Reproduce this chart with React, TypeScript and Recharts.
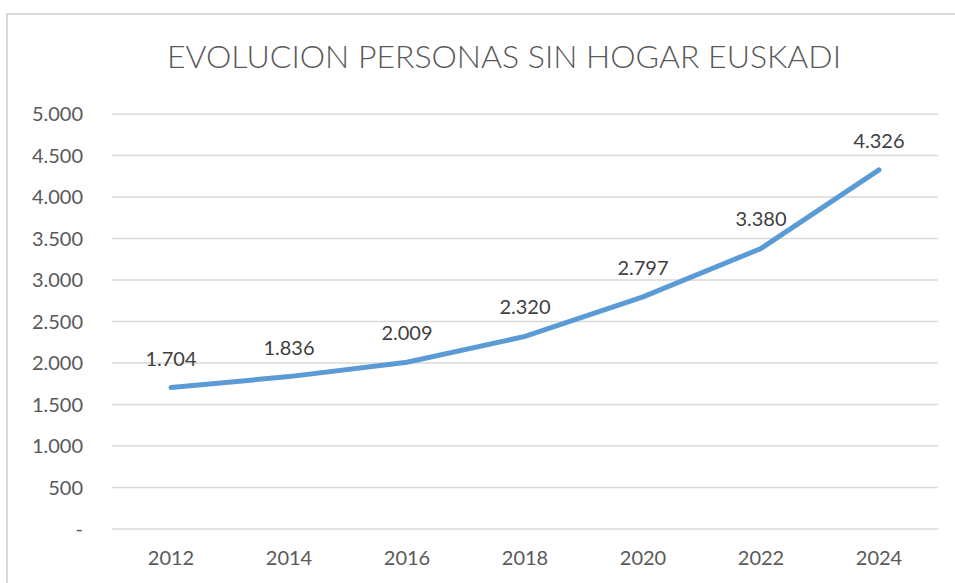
import React from "react";
import { LineChart, Line, XAxis, YAxis, CartesianGrid, LabelList } from "recharts";

const years = ["2012", "2014", "2016", "2018", "2020", "2022", "2024"];
const personas = [1704, 1836, 2009, 2320, 2797, 3380, 4326];
const yTicks = [0, 500, 1000, 1500, 2000, 2500, 3000, 3500, 4000, 4500, 5000];
const title = "EVOLUCION PERSONAS SIN HOGAR EUSKADI";

const data = years.map((y, i) => ({ year: y, value: personas[i] }));

const fmt = (v: number) =>
  v === 0 ? "-" : String(v).replace(/\B(?=(\d{3})+(?!\d))/g, ".");

const FONT = "Lato, 'Open Sans', sans-serif";

export default function App() {
  return (
    <div style={{ position: "absolute", left: 0, top: 0, width: 955, height: 583, overflow: "hidden", background: "#fff" }}>
      <div
        style={{
          position: "absolute",
          left: 6,
          top: 13,
          width: 1000,
          height: 700,
          border: "2px solid #d9d9d9",
          boxSizing: "border-box",
        }}
      />
      <LineChart
        width={955}
        height={583}
        data={data}
        margin={{ top: 114, right: 17, bottom: 0, left: 0 }}
        style={{ position: "absolute", left: 0, top: 0 }}
      >
        <text
          x={504}
          y={68}
          textAnchor="middle"
          fill="#595959"
          fontFamily={FONT}
          fontSize={32}
          fontWeight={300}
        >
          {title}
        </text>
        <CartesianGrid vertical={false} stroke="#d9d9d9" strokeWidth={1.5} />
        <XAxis
          dataKey="year"
          axisLine={false}
          tickLine={false}
          tickSize={0}
          tickMargin={22}
          height={54}
          padding={{ left: 59, right: 59 }}
          tick={{ fill: "#595959", fontSize: 20, fontFamily: FONT }}
        />
        <YAxis
          domain={[0, 5000]}
          ticks={yTicks}
          interval={0}
          axisLine={false}
          tickLine={false}
          tickSize={0}
          tickMargin={29}
          width={112}
          tickFormatter={fmt}
          tick={{ fill: "#595959", fontSize: 20, fontFamily: FONT }}
        />
        <Line
          type="linear"
          dataKey="value"
          stroke="#5b9bd5"
          strokeWidth={5}
          strokeLinecap="round"
          dot={false}
          isAnimationActive={false}
        >
          <LabelList
            dataKey="value"
            position="top"
            offset={22}
            formatter={(v: any) => fmt(Number(v))}
            fill="#404040"
            fontSize={20}
            fontFamily={FONT}
          />
        </Line>
      </LineChart>
    </div>
  );
}
